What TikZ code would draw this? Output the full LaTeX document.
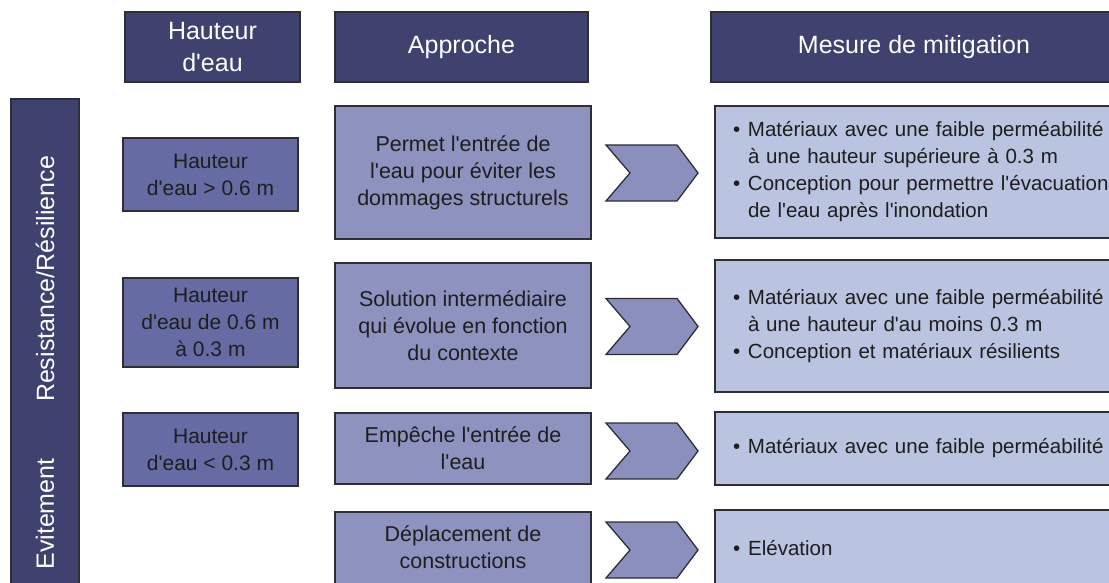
\documentclass[tikz,border=0pt]{standalone}
\usepackage{fontspec}
\newfontfamily\arialf{Liberation Sans}
\usetikzlibrary{calc}
\definecolor{hdr}{HTML}{3F416F}
\definecolor{hbox}{HTML}{666BA3}
\definecolor{abox}{HTML}{8D92BF}
\definecolor{mbox}{HTML}{BAC3E0}
\definecolor{chevc}{HTML}{8A8FBE}
\definecolor{edgec}{HTML}{2E2E38}
\definecolor{ink}{HTML}{1E1E1E}
\newcommand\bul{\makebox[15pt][l]{\textbullet}}
\newcommand\ind{\hspace*{15pt}}
\begin{document}
\begin{tikzpicture}[x=1pt,y=-1pt,
  sz/.style 2 args={minimum width=#1pt,minimum height=#2pt},
  box/.style={draw=edgec,line width=1.3pt,inner sep=0pt,align=center,text=ink,
    font=\arialf\fontsize{21}{27}\selectfont},
  hdrbox/.style={box,fill=hdr,text=white,font=\arialf\fontsize{25}{32}\selectfont},
  hbx/.style={box,fill=hbox},
  abx/.style={box,fill=abox,font=\arialf\fontsize{21.5}{27}\selectfont},
  atxt/.style={inner sep=0pt,align=center,text=ink,font=\arialf\fontsize{21.5}{27}\selectfont},
  mbx/.style={box,fill=mbox,align=left,text width=430pt,inner xsep=18pt,
    font=\arialf\fontsize{20.5}{27}\selectfont},
  mtxt/.style={inner sep=0pt,align=left,text=ink,font=\arialf\fontsize{20.5}{27}\selectfont},
  chevron/.style={draw=edgec,line width=1.3pt,fill=chevc,line join=miter},
  bartxt/.style={text=white,rotate=90,font=\arialf\fontsize{25}{30}\selectfont,inner sep=0pt}
]
\useasboundingbox (0,0) rectangle (1109,583);
\clip (0,0) rectangle (1109,583);
\fill[white] (0,0) rectangle (1109,583);

% headers
\node[hdrbox,sz={175}{70}] (hh) at (212.5,47) {Hauteur\\d'eau};
\node[hdrbox,sz={253}{70}] (ah) at (461.5,47) {Approche};
\node[hdrbox,sz={406}{70}] (mh) at (914,47) {Mesure de mitigation};

% left bar
\node[draw=edgec,line width=1.3pt,fill=hdr,sz={68}{510}] (bar) at (45,354) {};
\node[bartxt] (res) at (45,279) {Resistance/Résilience};
\node[bartxt] (evi) at (45,514) {Evitement};

% hauteur boxes
\node[hbx,sz={175}{73}] (h1) at (210.5,174.5) {Hauteur\\d'eau > 0.6 m};
\node[hbx,sz={175}{89}] (h2) at (210.5,322.5) {Hauteur\\d'eau de 0.6 m\\à 0.3 m};
\node[hbx,sz={175}{73}] (h3) at (210.5,449.5) {Hauteur\\d'eau < 0.3 m};

% approche boxes
\node[abx,sz={256}{133}] (a1) at (463,172.5) {Permet l'entrée de\\l'eau pour éviter les\\dommages structurels};
\node[abx,sz={256}{125}] (a2) at (463,325.5) {Solution intermédiaire\\qui évolue en fonction\\du contexte};
\node[abx,sz={256}{71}] (a3) at (463,448.5) {Empêche l'entrée de\\l'eau};
\node[abx,sz={256}{88}] (a4) at (463,556) {};
\node[atxt] (a4t) at (463,547) {Déplacement de\\constructions};

% mesure boxes
\node[mbx,sz={466}{132}] (m1) at (948,172) {\bul Matériaux avec une faible perméabilité\\\ind à une hauteur supérieure à 0.3 m\\\bul Conception pour permettre l'évacuation\\\ind de l'eau après l'inondation};
\node[mbx,sz={466}{132}] (m2) at (948,326) {\bul Matériaux avec une faible perméabilité\\\ind à une hauteur d'au moins 0.3 m\\\bul Conception et matériaux résilients\\[14pt]};
\node[mbx,sz={466}{73}] (m3) at (948,448.5) {\bul Matériaux avec une faible perméabilité};
\node[mbx,sz={466}{90}] (m4) at (948,555) {};
\node[mtxt,anchor=west] (m4t) at (733,548) {\bul Elévation};

% chevrons
\coordinate (c1) at (606,173);
\coordinate (c2) at (606,326.5);
\coordinate (c3) at (606,451);
\coordinate (c4) at (606,550);
\foreach \c in {c1,c2,c3,c4}{
  \draw[chevron] ($(\c)+(0,-28)$) -- ++(71,0) -- ++(21,28) -- ++(-21,28) -- ++(-71,0) -- ++(24,-28) -- cycle;
}
\end{tikzpicture}
\end{document}
